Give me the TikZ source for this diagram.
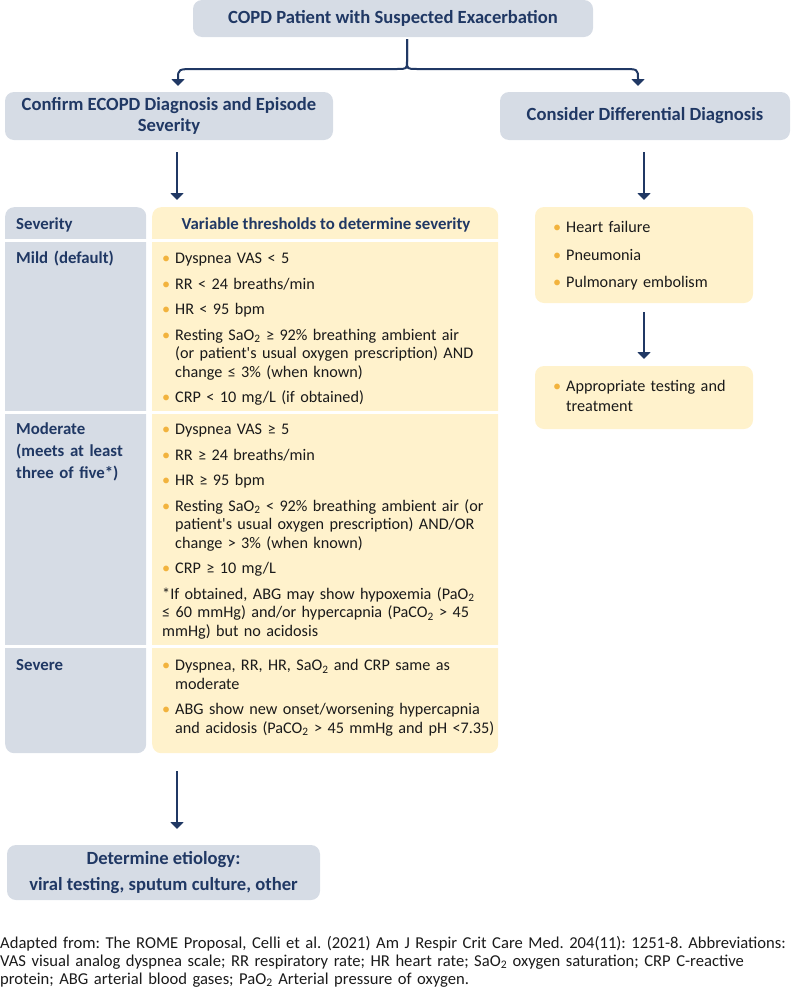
\documentclass[tikz,border=0pt]{standalone}
\usepackage{fontspec}
\setmainfont{Carlito}
\usetikzlibrary{arrows.meta}
\definecolor{navy}{HTML}{203864}
\definecolor{greybox}{HTML}{D6DCE5}
\definecolor{yellowbox}{HTML}{FFF2CC}
\definecolor{bulletc}{HTML}{F2B33D}
\definecolor{bodytext}{HTML}{1A1A1A}
\definecolor{footc}{HTML}{1A1A1A}
\newcommand{\bul}[1]{\noindent\makebox[13pt][l]{\textcolor{bulletc}{\textbullet}}\parbox[t]{340pt}{#1\strut}\par\prevdepth=\dp\strutbox}
\newcommand{\gapsm}{\vspace{7pt}}
\newcommand{\gapbig}{\vspace{9pt}}
\newcommand{\two}{\textsubscript{2}}
\newcommand{\apo}{\textquotesingle}
\frenchspacing
\begin{document}
\begin{tikzpicture}[x=1pt,y=-1pt,
  box/.style={rounded corners=9pt, inner sep=0pt},
  gbox/.style={box, fill=greybox},
  ybox/.style={box, fill=yellowbox},
  head/.style={font=\bfseries\fontsize{18.6}{21}\selectfont, text=navy, align=center},
  arr/.style={draw=navy, line width=2pt, -{Triangle[width=13pt,length=7pt]}},
  cell/.style={anchor=base west, inner sep=0pt, text width=360pt, font=\frenchspacing\fontsize{16.2}{18.5}\selectfont, text=bodytext},
  sevlab/.style={anchor=base west, inner sep=0pt, text width=130pt, align=left, font=\bfseries\fontsize{16.8}{22}\selectfont, text=navy},
]
\useasboundingbox (0,0) rectangle (792,996);

% top boxes
\node[gbox, minimum width=400pt, minimum height=37pt, head] (top) at (393,18.5) {COPD Patient with Suspected Exacerbation};
\node[gbox, minimum width=328pt, minimum height=48pt, head] (confirm) at (169,116) {Confirm ECOPD Diagnosis and Episode\\Severity};
\node[gbox, minimum width=290pt, minimum height=48pt, head] (diff) at (645,116) {Consider Differential Diagnosis};

% brace connector
\coordinate (stem) at (407,39);
\coordinate (tipL) at (178,86);
\coordinate (tipR) at (638,86);
\draw[arr] (stem) -- (407,61) .. controls (407,69) .. (397,69) -- (196,69) .. controls (178,69) .. (178,79) -- (tipL);
\draw[arr] (stem) -- (407,61) .. controls (407,69) .. (417,69) -- (622,69) .. controls (638,69) .. (638,79) -- (tipR);

% arrows down
\coordinate (a1s) at (177,152); \coordinate (a1e) at (177,200);
\coordinate (a2s) at (644,152); \coordinate (a2e) at (644,200);
\coordinate (a3s) at (644,312); \coordinate (a3e) at (644,359);
\coordinate (a4s) at (177,771); \coordinate (a4e) at (177,829);
\draw[arr] (a1s) -- (a1e);
\draw[arr] (a2s) -- (a2e);
\draw[arr] (a3s) -- (a3e);
\draw[arr] (a4s) -- (a4e);

% table
\node[gbox, anchor=north west, minimum width=141pt, minimum height=546pt] (sevcol) at (5,207) {};
\node[ybox, anchor=north west, minimum width=346pt, minimum height=546pt] (varcol) at (152,207) {};
\draw[white, line width=3pt] (0,240.5) -- (510,240.5);
\draw[white, line width=3pt] (0,412) -- (510,412);
\draw[white, line width=3pt] (0,646.5) -- (510,646.5);

\node[sevlab] (sevhead) at (16,229.5) {Severity};
\node[anchor=base, inner sep=0pt, font=\bfseries\fontsize{16.8}{18.5}\selectfont, text=navy] (varhead) at (326,229.5) {Variable thresholds to determine severity};

\node[sevlab] (mildlab) at (16,263.5) {Mild (default)};
\node[cell] (mildcell) at (162,263.5) {%
\bul{Dyspnea VAS < 5}\gapsm
\bul{RR < 24 breaths/min}\gapsm
\bul{HR < 95 bpm}\gapsm
\bul{Resting SaO\two{} ≥ 92\% breathing ambient air\\(or patient\apo s usual oxygen prescription) AND\\change ≤ 3\% (when known)}\gapsm
\bul{CRP < 10 mg/L (if obtained)}};

\node[sevlab] (modlab) at (16,434.5) {Moderate\\(meets at least\\three of five*)};
\node[cell] (modcell) at (162,434.5) {%
\bul{Dyspnea VAS ≥ 5}\gapsm
\bul{RR ≥ 24 breaths/min}\gapsm
\bul{HR ≥ 95 bpm}\gapsm
\bul{Resting SaO\two{} < 92\% breathing ambient air (or\\patient\apo s usual oxygen prescription) AND/OR\\change > 3\% (when known)}\gapsm
\bul{CRP ≥ 10 mg/L}\gapsm
\noindent *If obtained, ABG may show hypoxemia (PaO\two\\≤ 60 mmHg) and/or hypercapnia (PaCO\two{} > 45\\mmHg) but no acidosis\par};

\node[sevlab] (sevlabel) at (16,670.5) {Severe};
\node[cell] (sevcell) at (162,670.5) {%
\bul{Dyspnea, RR, HR, SaO\two{} and CRP same as\\moderate}\gapsm
\bul{ABG show new onset/worsening hypercapnia\\and acidosis (PaCO\two{} > 45 mmHg and pH <7.35)}};

% differential side
\node[ybox, minimum width=218pt, minimum height=96pt] (diffbox) at (644,255) {};
\node[cell, text width=200pt] (diffcell) at (553,232.5) {%
\bul{Heart failure}\gapbig
\bul{Pneumonia}\gapbig
\bul{Pulmonary embolism}};
\node[ybox, minimum width=218pt, minimum height=63pt] (apbox) at (644,397.5) {};
\node[cell, text width=200pt, font=\fontsize{16.2}{20}\selectfont] (apcell) at (553,391.5) {%
\bul{Appropriate testing and\\treatment}};

% etiology
\node[gbox, minimum width=313pt, minimum height=55pt, head, font=\bfseries\fontsize{18.6}{26}\selectfont] (etio) at (163.5,872.5) {Determine etiology:\\viral testing, sputum culture, other};

% footer
\node[anchor=base west, inner sep=0pt, text width=800pt, align=left, font=\fontsize{16.6}{18}\selectfont, text=footc] (foot) at (0,948) {Adapted from: The ROME Proposal, Celli et al. (2021) Am J Respir Crit Care Med. 204(11): 1251-8. Abbreviations:\\VAS visual analog dyspnea scale; RR respiratory rate; HR heart rate; SaO\two{} oxygen saturation; CRP C-reactive\\protein; ABG arterial blood gases; PaO\two{} Arterial pressure of oxygen.};
\end{tikzpicture}
\end{document}
